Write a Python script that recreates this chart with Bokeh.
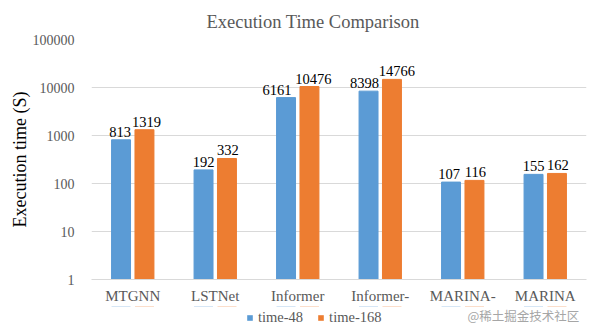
from bokeh.plotting import figure
from bokeh.layouts import column
from bokeh.models import (ColumnDataSource, FactorRange, FixedTicker, Legend, LegendItem,
                          Label, Title, Range1d)
from bokeh.transform import dodge
from bokeh.core.properties import value
from bokeh.embed import file_html
from bokeh.resources import INLINE

categories = ["MTGNN", "LSTNet", "Informer", "Informer-", "MARINA-", "MARINA"]
time_48 = [813, 192, 6161, 8398, 107, 155]
time_168 = [1319, 332, 10476, 14766, 116, 162]
y_ticks = [1, 10, 100, 1000, 10000, 100000]
series_names = ["time-48", "time-168"]

# pixel nudges of the value labels (style only, like Excel's label de-overlap)
nudge_48 = [-1, 0, -9, -4, -2, 0]
nudge_168 = [2, 1, 4, 5, 1, 1]

SERIF = "Liberation Serif"
BLUE = "#5B9BD5"
ORANGE = "#ED7D31"

src = ColumnDataSource(dict(cat=categories, t48=time_48, t168=time_168,
                            l48=[str(v) for v in time_48], l168=[str(v) for v in time_168],
                            n48=nudge_48, n168=nudge_168))

xr = FactorRange(*categories, range_padding=0)
p = figure(width=590, height=306, x_range=xr,
           y_axis_type="log", y_range=(1, 100000), output_backend="svg",
           toolbar_location=None, min_border_left=91, min_border_right=4,
           min_border_top=39, min_border_bottom=27, title=None)

r1 = p.vbar(x=dodge("cat", -0.142, range=xr), top="t48", bottom=1, width=0.23,
            color=BLUE, source=src)
r2 = p.vbar(x=dodge("cat", 0.142, range=xr), top="t168", bottom=1, width=0.23,
            color=ORANGE, source=src)

for col, lab, off, nd in (("t48", "l48", -0.142, "n48"), ("t168", "l168", 0.142, "n168")):
    p.text(x=dodge("cat", off, range=xr), y=col, text=lab, source=src, x_offset=nd,
           text_font=value(SERIF), text_font_size="14.5px", text_color="#000000",
           text_align="center", text_baseline="bottom", y_offset=-3)

p.yaxis.ticker = FixedTicker(ticks=y_ticks)
p.yaxis.major_label_overrides = {t: str(t) for t in y_ticks}
p.yaxis.axis_line_color = None
p.yaxis.major_tick_line_color = None
p.yaxis.minor_tick_line_color = None
p.yaxis.major_label_text_font = SERIF
p.yaxis.major_label_text_font_size = "14px"
p.yaxis.major_label_text_color = "#595959"
p.yaxis.major_label_standoff = 11
p.yaxis.axis_label = "Execution time (S)"
p.yaxis.axis_label_text_font = SERIF
p.yaxis.axis_label_text_font_size = "18px"
p.yaxis.axis_label_text_font_style = "normal"
p.yaxis.axis_label_text_color = "#000000"
p.yaxis.axis_label_standoff = 0

p.xaxis.axis_line_color = "#D9D9D9"
p.xaxis.major_tick_line_color = None
p.xaxis.minor_tick_line_color = None
p.xaxis.major_label_text_font = SERIF
p.xaxis.major_label_text_font_size = "15px"
p.xaxis.major_label_text_color = "#595959"
p.xaxis.major_label_standoff = 2

p.xgrid.grid_line_color = None
p.ygrid.grid_line_color = "#D9D9D9"
p.ygrid.minor_grid_line_color = None
p.outline_line_color = None

p.add_layout(Title(text="Execution Time Comparison", text_font=SERIF, text_font_size="18.5px",
                   text_font_style="normal", text_color="#595959", align="left",
                   offset=115, standoff=15), "above")

# bottom strip: legend + watermark (frame aligned with the main plot's frame)
p2 = figure(width=590, height=26, x_range=xr, y_range=Range1d(0, 0.5), output_backend="svg",
            toolbar_location=None, min_border=0, title=None)
p2.axis.visible = False
p2.grid.grid_line_color = None
p2.outline_line_color = None
# zero-height copies of the bars, far outside this strip: used only as legend keys
k1 = p2.vbar(x=dodge("cat", -0.142, range=xr), top="t48", bottom="t48", width=0.23,
             fill_color=BLUE, line_color=None, source=src)
k2 = p2.vbar(x=dodge("cat", 0.142, range=xr), top="t168", bottom="t168", width=0.23,
             fill_color=ORANGE, line_color=None, source=src)
legend = Legend(items=[LegendItem(label=series_names[0], renderers=[k1]),
                       LegendItem(label=series_names[1], renderers=[k2])],
                orientation="horizontal", location=(155, 6),
                label_text_font=SERIF, label_text_font_size="14.5px", label_text_color="#595959",
                glyph_width=7, glyph_height=7, label_height=16, spacing=14, label_standoff=5,
                border_line_color=None, background_fill_alpha=0, padding=0, margin=0)
p2.add_layout(legend)
p2.add_layout(Label(x=376, y=17, x_units="screen", y_units="screen", text="@稀土掘金技术社区",
                    text_font="Noto Sans CJK SC", text_font_size="12.5px", text_color="#A6A6A6",
                    text_baseline="middle"))

layout = column(p, p2, spacing=0)
open("out.html", "w").write(file_html(layout, INLINE))
